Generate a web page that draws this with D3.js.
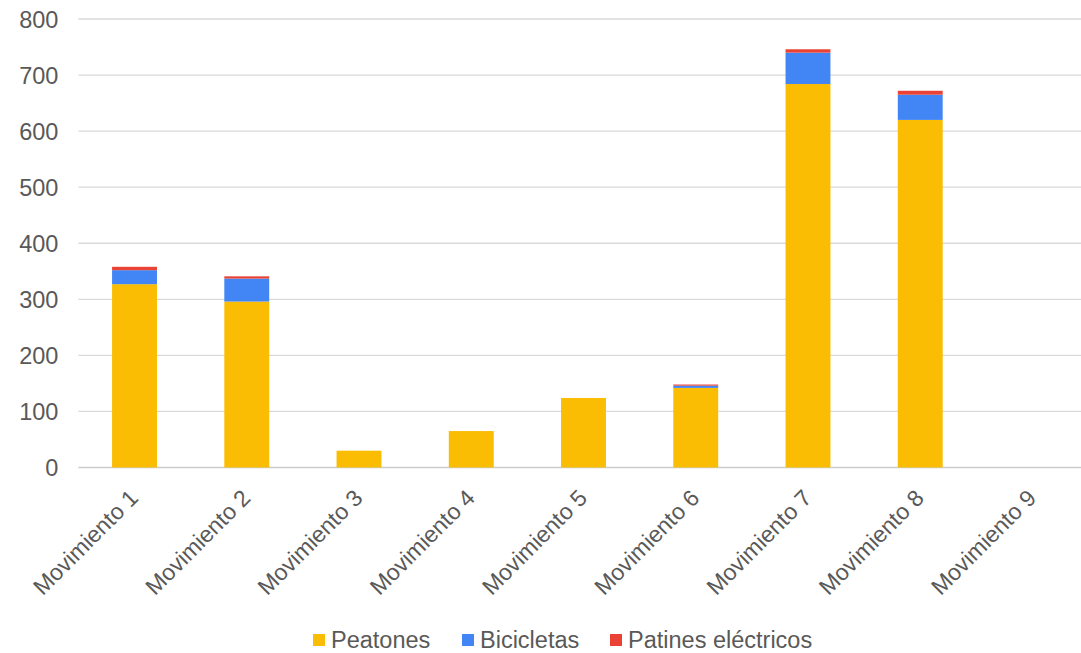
<!DOCTYPE html>
<html><head><meta charset="utf-8">
<script src="https://cdn.jsdelivr.net/npm/d3@7"></script>
<style>body{margin:0;background:#fff}svg{font-family:"Liberation Sans",Arial,sans-serif}</style>
</head><body><svg id="c" width="1081" height="653"></svg>
<script>
const categories = ["Movimiento 1","Movimiento 2","Movimiento 3","Movimiento 4","Movimiento 5","Movimiento 6","Movimiento 7","Movimiento 8","Movimiento 9"];
const peatones = [327, 296, 30, 65, 124, 142, 684, 620, 0];
const bicicletas = [25, 41, 0, 0, 0, 4, 56, 45, 0];
const patines = [6, 4, 0, 0, 0, 2, 6, 7, 0];
const seriesNames = ["Peatones","Bicicletas","Patines eléctricos"];
const colors = ["#FBBC04","#4285F4","#EA4335"];
const yTicks = [0,100,200,300,400,500,600,700,800];

const svg = d3.select("#c");
const m = {l:78.4, r:1088.6, t:19, b:467.5};
const x = d3.scaleBand().domain(categories).range([m.l, m.r]).paddingInner(0.6).paddingOuter(0.3);
const y = d3.scaleLinear().domain([0,800]).range([m.b, m.t]);

// grid
svg.append("g").selectAll("line").data(yTicks).join("line")
  .attr("x1", m.l).attr("x2", m.r)
  .attr("y1", d=>y(d)).attr("y2", d=>y(d))
  .attr("stroke", d=> d===0 ? "#cccccc" : "#d9d9d9").attr("stroke-width", 1.3);

const yAxis = svg.append("g").attr("transform", `translate(${m.l},0)`)
  .call(d3.axisLeft(y).tickValues(yTicks).tickSize(0).tickPadding(20));
yAxis.select(".domain").remove();
yAxis.attr("font-size", null).attr("font-family", null);
yAxis.selectAll("text").attr("fill","#595959").attr("font-size","23.5px").attr("dy","0.36em");

const data = categories.map((c,i)=>({cat:c, Peatones:peatones[i], Bicicletas:bicicletas[i], "Patines eléctricos":patines[i]}));
const stacked = d3.stack().keys(seriesNames)(data);
svg.append("g").selectAll("g").data(stacked).join("g")
  .attr("fill",(d,i)=>colors[i])
  .selectAll("rect").data(d=>d).join("rect")
  .attr("x", d=>x(d.data.cat))
  .attr("width", x.bandwidth())
  .attr("y", d=>y(d[1]))
  .attr("height", d=>Math.max(0, y(d[0])-y(d[1])));

// x labels
svg.append("g").selectAll("text").data(categories).join("text")
  .attr("transform", d=>`translate(${x(d)+x.bandwidth()/2+5},${m.b+32}) rotate(-45)`)
  .attr("text-anchor","end")
  .attr("fill","#595959").attr("font-size","23px")
  .text(d=>d);

// legend
const legX = [313, 462, 610];
const lg = svg.append("g");
seriesNames.forEach((s,i)=>{
  lg.append("rect").attr("x", legX[i]).attr("y", 634).attr("width",12).attr("height",12).attr("fill",colors[i]);
  lg.append("text").attr("x", legX[i]+18).attr("y", 648).attr("fill","#595959").attr("font-size","23.5px").text(s);
});
</script></body></html>
